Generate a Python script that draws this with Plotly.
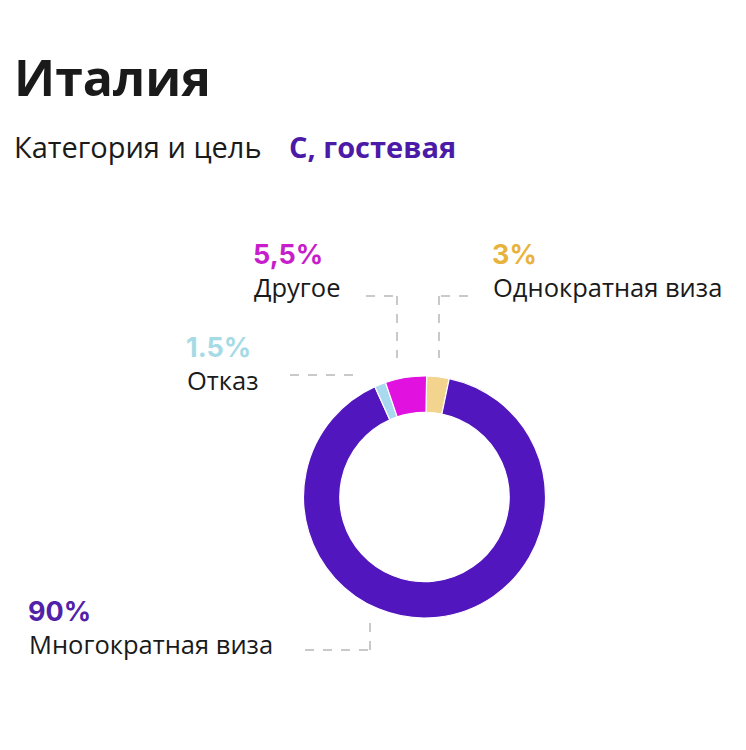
import plotly.graph_objects as go

W, H = 746, 750

# данные
labels = ["Однократная виза", "Многократная виза", "Отказ", "Другое"]
values = [3, 90, 1.5, 5.5]
pct_text = ["3%", "90%", "1.5%", "5,5%"]

slice_colors = ["#F3D48E", "#5216BE", "#A9D9EE", "#E112E0"]
pct_colors = ["#E8B33C", "#5121A8", "#A6DBE6", "#C71DCB"]

# позиции подписей (px, левый край / центр строки процента)
label_pos = [(490, 254), (26, 611), (184, 347), (251, 254)]


def fx(x):
    return x / W


def fy(y):
    return 1 - y / H


cx, cy, r = 424.5, 497, 121

fig = go.Figure(go.Pie(
    labels=labels,
    values=values,
    hole=0.70,
    sort=False,
    direction="clockwise",
    rotation=1,
    textinfo="none",
    hoverinfo="label+percent",
    marker=dict(colors=slice_colors, line=dict(color="white", width=1.2)),
    domain=dict(x=[fx(cx - r), fx(cx + r)], y=[fy(cy + r), fy(cy - r)]),
    showlegend=False,
))

ann = [
    dict(text="<b>Италия</b>", x=fx(12), y=fy(77), font=dict(size=50, color="#1A1A1A", family="Open Sans")),
    dict(text="Категория и цель", x=fx(12), y=fy(147), font=dict(size=29, color="#1A1A1A", family="Open Sans")),
    dict(text="<b>С, гостевая</b>", x=fx(287), y=fy(147), font=dict(size=29, color="#4B1BA8", family="Open Sans")),
]
for lab, pct, col, (x, y) in zip(labels, pct_text, pct_colors, label_pos):
    ann.append(dict(text="<b>" + pct + "</b>", x=fx(x), y=fy(y),
                    font=dict(size=27, color=col, family="Inter")))
    ann.append(dict(text=lab, x=fx(x + 1), y=fy(y + 33),
                    font=dict(size=25.5, color="#1A1A1A", family="Open Sans")))
for a in ann:
    a.update(xref="paper", yref="paper", xanchor="left", yanchor="middle", showarrow=False)

# пунктирные выноски
lines = [
    [(290, 375), (360, 375)],
    [(366, 296), (397, 296), (397, 358)],
    [(468, 296), (439, 296), (439, 358)],
    [(305, 650), (370, 650), (370, 618)],
]
shapes = []
for pts in lines:
    for (x0, y0), (x1, y1) in zip(pts[:-1], pts[1:]):
        shapes.append(dict(type="line", xref="paper", yref="paper",
                           x0=fx(x0), y0=fy(y0), x1=fx(x1), y1=fy(y1),
                           line=dict(color="#B8B8B8", width=1.5, dash="dash")))

fig.update_layout(
    width=W, height=H,
    margin=dict(l=0, r=0, t=0, b=0),
    paper_bgcolor="white",
    plot_bgcolor="white",
    annotations=ann,
    shapes=shapes,
)

fig.write_html("out.html", config={"displayModeBar": False},
               post_script="document.body.style.margin='0';")
